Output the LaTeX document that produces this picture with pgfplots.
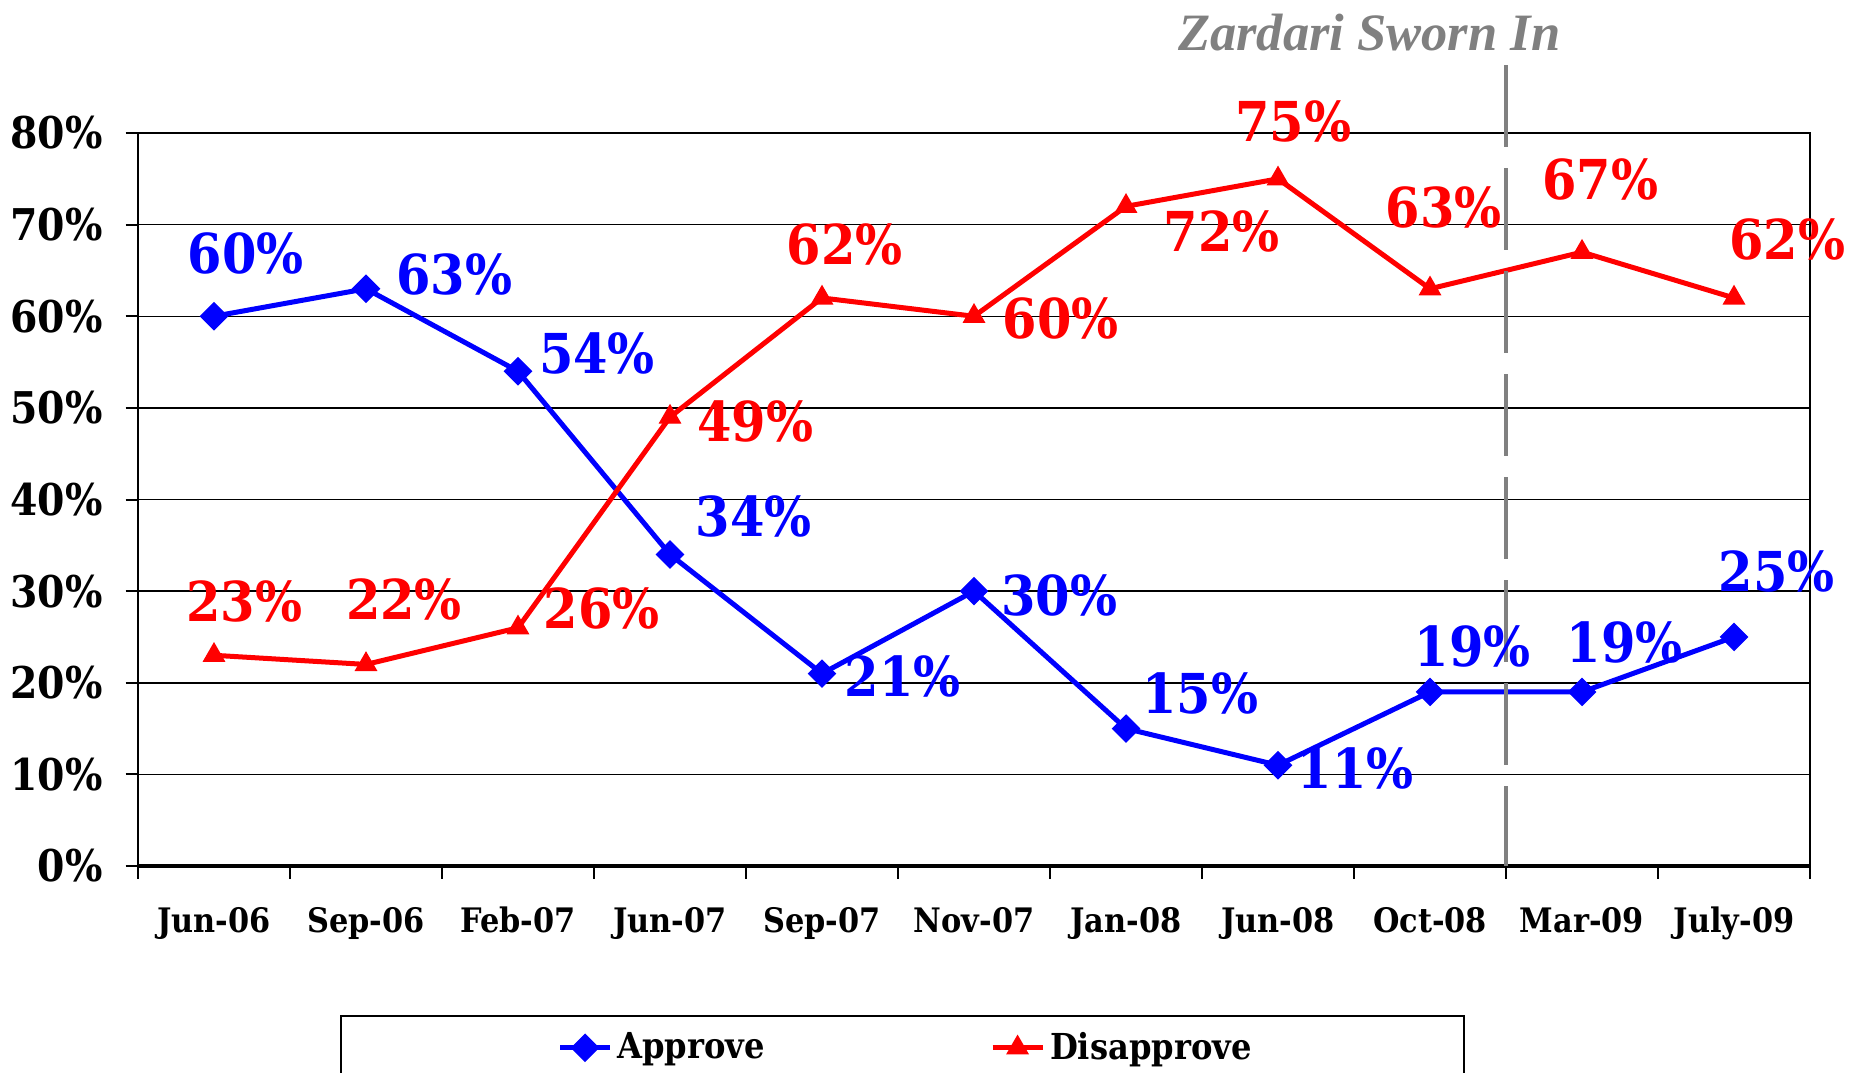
\documentclass[border=0pt]{standalone}
\usepackage{fontspec}
\setmainfont{DejaVu Serif}[FakeStretch=0.9]
\newfontfamily\timesfont{Liberation Serif}
\usepackage{pgfplots}
\pgfplotsset{compat=1.18}
\definecolor{myblue}{RGB}{0,0,255}
\definecolor{myred}{RGB}{255,0,0}
\definecolor{mygray}{RGB}{128,128,128}
\tikzset{lbl/.style={font=\fontsize{22}{24}\selectfont\bfseries}}
\begin{document}
\begin{tikzpicture}
\clip (-55.2pt,-82.4pt) rectangle (685.2pt,346.4pt);
\begin{axis}[
  at={(0,0)}, anchor=south west,
  scale only axis, width=668.8pt, height=293.2pt,
  xmin=-0.5, xmax=10.5, ymin=0, ymax=80,
  clip=false,
  axis line style={black, line width=0.8pt},
  tick align=outside,
  xtick pos=bottom, ytick pos=left,
  major tick length=5pt,
  tick style={black, line width=0.8pt},
  xtick={-0.5,0.5,...,10.5},
  xticklabels={Jun-06,Sep-06,Feb-07,Jun-07,Sep-07,Nov-07,Jan-08,Jun-08,Oct-08,Mar-09,July-09,{}},
  xticklabel style={font=\fontsize{13.5}{14}\selectfont\bfseries, xshift=30.4pt, yshift=-8pt},
  ytick={0,10,...,80},
  yticklabels={0\%,10\%,20\%,30\%,40\%,50\%,60\%,70\%,80\%},
  yticklabel style={font=\fontsize{17.5}{18}\selectfont\bfseries, xshift=-5.6pt},
  ymajorgrids,
  grid style={black, line width=0.6pt},
  legend columns=2,
  legend style={draw=none, fill=none, at={(0.46,-0.248)}, anchor=center,
    font=\fontsize{14.3}{15}\selectfont\bfseries,
    /tikz/every even column/.append style={column sep=88pt}},
  legend image code/.code={\draw[mark repeat=2,mark phase=2,#1] plot coordinates {(0pt,0pt) (10pt,0pt) (20pt,0pt)};},
]
\addplot[myblue, line width=2pt, mark=square*, mark size=3.8pt, mark options={rotate=45, solid, line width=0.5pt}]
  coordinates {(0,60) (1,63) (2,54) (3,34) (4,21) (5,30) (6,15) (7,11) (8,19) (9,19) (10,25)};
\addlegendentry{Approve}
\addplot[myred, line width=2pt, mark=triangle*, mark size=4.8pt, mark options={solid, line width=0.5pt}]
  coordinates {(0,23) (1,22) (2,26) (3,49) (4,62) (5,60) (6,72) (7,75) (8,63) (9,67) (10,62)};
\addlegendentry{Disapprove}

\draw[black, line width=1.6pt] (rel axis cs:0,0) -- (rel axis cs:1,0);
\draw[mygray, line width=1.6pt, dash pattern=on 32.8pt off 8.4pt] (axis cs:8.5,87.4) -- (axis cs:8.5,0);
\node[mygray, anchor=base, font=\timesfont\fontsize{21}{22}\selectfont\bfseries\itshape] at (axis cs:7.6,89.06) {Zardari Sworn In};

\node[lbl, myblue] at (axis cs:0.21,66.9) {60\%};
\node[lbl, myblue] at (axis cs:1.58,64.6) {63\%};
\node[lbl, myblue] at (axis cs:2.52,55.9) {54\%};
\node[lbl, myblue] at (axis cs:3.55,38.1) {34\%};
\node[lbl, myblue] at (axis cs:4.53,20.7) {21\%};
\node[lbl, myblue] at (axis cs:5.56,29.5) {30\%};
\node[lbl, myblue] at (axis cs:6.49,18.8) {15\%};
\node[lbl, myblue] at (axis cs:7.51,10.6) {11\%};
\node[lbl, myblue] at (axis cs:8.28,24.0) {19\%};
\node[lbl, myblue] at (axis cs:9.28,24.4) {19\%};
\node[lbl, myblue] at (axis cs:10.28,32.1) {25\%};

\node[lbl, myred] at (axis cs:0.20,28.9) {23\%};
\node[lbl, myred] at (axis cs:1.25,29.1) {22\%};
\node[lbl, myred] at (axis cs:2.55,28.1) {26\%};
\node[lbl, myred] at (axis cs:3.56,48.5) {49\%};
\node[lbl, myred] at (axis cs:4.15,67.8) {62\%};
\node[lbl, myred] at (axis cs:5.57,59.8) {60\%};
\node[lbl, myred] at (axis cs:6.63,69.3) {72\%};
\node[lbl, myred] at (axis cs:7.10,81.3) {75\%};
\node[lbl, myred] at (axis cs:8.09,71.9) {63\%};
\node[lbl, myred] at (axis cs:9.12,74.9) {67\%};
\node[lbl, myred] at (axis cs:10.35,68.4) {62\%};
\end{axis}
\draw[black, line width=0.8pt] (81.2pt,-60pt) rectangle (530.4pt,-110pt);
\end{tikzpicture}
\end{document}
